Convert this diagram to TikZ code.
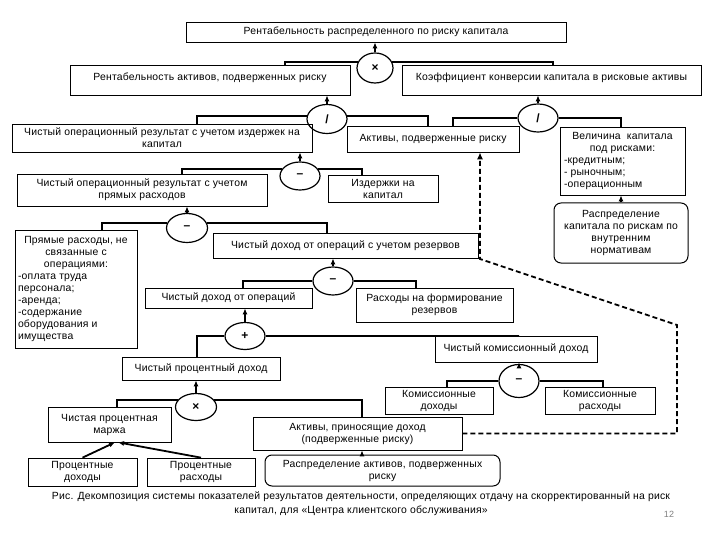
\documentclass[tikz,border=0pt]{standalone}
\usepackage{fontspec}
\setmainfont{Liberation Sans}[LetterSpace=2.0]
\usetikzlibrary{shapes.geometric,arrows.meta}
\tikzset{
  box/.style={draw, line width=0.7pt, inner sep=1pt, font=\fontsize{10.4}{12}\selectfont, align=center},
  rbox/.style={box, rounded corners=7pt, line width=1pt},
  op/.style={ellipse, draw, line width=1.2pt, inner sep=0pt, font=\bfseries\fontsize{12}{12}\selectfont},
  conn/.style={line width=1.8pt},
  arr/.style={line width=1.2pt, -{Latex[length=6pt,width=5pt]}},
  dashconn/.style={line width=1.8pt, dash pattern=on 5pt off 3pt, -{Latex[length=7pt,width=6pt]}},
  hightext/.style={text depth=6pt}
}
\begin{document}
\begin{tikzpicture}[x=1pt,y=-1pt]
\fill[white] (0,0) rectangle (720,540);
\useasboundingbox (0,0) rectangle (720,540);
% boxes
\node[box, minimum width=380pt, minimum height=20pt] (b1) at (376,32) {Рентабельность распределенного по риску капитала};
\node[box, hightext, minimum width=280pt, minimum height=30pt] (b2) at (210,80) {Рентабельность активов, подверженных риску};
\node[box, hightext, minimum width=299pt, minimum height=30pt] (b3) at (551.5,80) {Коэффициент конверсии капитала в рисковые активы};
\node[box, minimum width=300pt, minimum height=28pt] (b6) at (162,138) {Чистый операционный результат с учетом издержек на\\капитал};
\node[box, minimum width=172pt, minimum height=26pt] (b7) at (433,139) {Активы, подверженные риску};
\node[box, minimum width=125pt, minimum height=68pt] (b9) at (622.5,161) {\parbox{117pt}{\centering Величина~ капитала\\под рисками:\par\raggedright -кредитным;\\- рыночным;\\-операционным}};
\node[rbox, minimum width=134pt, minimum height=60pt] (b10) at (621,233) {Распределение\\капитала по рискам по\\внутренним\\нормативам};
\node[box, minimum width=250pt, minimum height=32pt] (b12) at (142,190) {Чистый операционный результат с учетом\\прямых расходов};
\node[box, minimum width=110pt, minimum height=27pt] (b13) at (383,188.5) {Издержки на\\капитал};
\node[box, minimum width=122pt, minimum height=118pt] (b15) at (76,289) {\parbox{116pt}{\centering Прямые расходы, не\\связанные с\\операциями:\par\raggedright -оплата труда\\персонала;\\-аренда;\\-содержание\\оборудования и\\имущества}};
\node[box, minimum width=265pt, minimum height=25pt] (b16) at (345.5,245.5) {Чистый доход от операций с учетом резервов};
\node[box, minimum width=167pt, minimum height=20pt] (b18) at (228.5,298) {Чистый доход от операций};
\node[box, minimum width=157pt, minimum height=34pt] (b19) at (434.5,305) {Расходы на формирование\\резервов};
\node[box, minimum width=158pt, minimum height=23pt] (b21) at (201,368.5) {Чистый процентный доход};
\node[box, minimum width=162pt, minimum height=26pt] (b22) at (516,349) {Чистый комиссионный доход};
\node[box, minimum width=123pt, minimum height=35pt] (b24) at (109.5,424.5) {Чистая процентная\\маржа};
\node[box, minimum width=209pt, minimum height=33pt] (b25) at (357.5,433.5) {Активы, приносящие доход\\(подверженные риску)};
\node[box, minimum width=109pt, minimum height=28pt] (b26) at (82.5,472) {Процентные\\доходы};
\node[box, minimum width=108pt, minimum height=28pt] (b27) at (201,472) {Процентные\\расходы};
\node[rbox, minimum width=235pt, minimum height=31pt] (b28) at (382.5,470.5) {Распределение активов, подверженных\\риску};
\node[box, minimum width=108pt, minimum height=27pt] (b30) at (439,400.5) {Комиссионные\\доходы};
\node[box, minimum width=110pt, minimum height=27pt] (b31) at (600,400.5) {Комиссионные\\расходы};
% operators
\node[op, minimum width=36pt, minimum height=30pt] (e1) at (375,68) {×};
\node[op, minimum width=40pt, minimum height=29pt] (e2) at (327,119) {/};
\node[op, minimum width=40pt, minimum height=28pt] (e3) at (538,118) {/};
\node[op, minimum width=40pt, minimum height=28pt] (e4) at (300,176) {–};
\node[op, minimum width=41pt, minimum height=29pt] (e5) at (187,228) {–};
\node[op, minimum width=40pt, minimum height=28pt] (e6) at (333,281) {–};
\node[op, minimum width=40pt, minimum height=27pt] (e7) at (245,336) {+};
\node[op, minimum width=41pt, minimum height=27pt] (e8) at (196,407) {×};
\node[op, minimum width=40pt, minimum height=33pt] (e9) at (519,381) {–};
% connectors
\draw[arr] (e1.north) -- (e1.north |- b1.south);
\draw[conn] (e1.160) -| ([xshift=75pt]b2.north);
\draw[conn] (e1.20) -| ([xshift=1.5pt]b3.north);
\draw[arr] (e2.north) -- (e2.north |- b2.south);
\draw[conn] (e2.172) -| ([xshift=35pt]b6.north);
\draw[conn] (e2.8) -| ([xshift=-5pt]b7.north);
\draw[arr] (e3.north) -- (e3.north |- b3.south);
\draw[conn] (e3.west) -| ([xshift=20pt]b7.north);
\draw[conn] (e3.east) -| ([xshift=-1.5pt]b9.north);
\draw[arr] (b10.north) -- (b10.north |- b9.south);
\draw[arr] (e4.north) -- (e4.north |- b6.south);
\draw[conn] (e4.160) -| ([xshift=40pt]b12.north);
\draw[conn] (e4.20) -| ([xshift=-21pt]b13.north);
\draw[arr] (e5.north) -- (e5.north |- b12.south);
\draw[conn] (e5.165) -| ([xshift=26pt]b15.north);
\draw[conn] (e5.15) -| ([xshift=-18.5pt]b16.north);
\draw[arr] (e6.north) -- (e6.north |- b16.south);
\draw[conn] (e6.west) -| ([xshift=14.5pt]b18.north);
\draw[conn] (e6.east) -| ([xshift=-18.5pt]b19.north);
\draw[arr] (e7.north) -- (e7.north |- b18.south);
\draw[conn] (e7.west) -| ([xshift=-4pt]b21.north);
\draw[conn] (e7.east) -| ([xshift=3pt]b22.north);
\draw[arr] (e8.north) -- (e8.north |- b21.south);
\draw[conn] (e8.158) -| ([xshift=7.5pt]b24.north);
\draw[conn] (e8.22) -| ([xshift=4.5pt]b25.north);
\draw[arr] (e9.north) -- (e9.north |- b22.south);
\draw[conn] (e9.west) -| ([xshift=8pt]b30.north);
\draw[conn] (e9.east) -| ([xshift=3pt]b31.north);
\draw[arr, line width=1.8pt] (b26.north) -- ([xshift=5.5pt]b24.south);
\draw[arr, line width=1.8pt] (b27.north) -- ([xshift=8.5pt]b24.south);
\coordinate (a28) at ([xshift=-20.5pt]b28.north);
\draw[arr] (a28) -- (a28 |- b25.south);
\coordinate (d1) at (677,433.5);
\coordinate (d2) at (677,325);
\coordinate (d3) at (480,259);
\draw[dashconn] (b25.east) -- (d1) -- (d2) -- (d3) -- (d3 |- b7.south);
% caption
\node[font=\fontsize{10.4}{14}\selectfont, align=center] (cap) at (361,504) {Рис. Декомпозиция системы показателей результатов деятельности, определяющих отдачу на скорректированный на риск\\капитал, для «Центра клиентского обслуживания»};
\node[font=\fontsize{9}{9}\selectfont, text=gray] (pg) at (669,514) {12};
\end{tikzpicture}
\end{document}
